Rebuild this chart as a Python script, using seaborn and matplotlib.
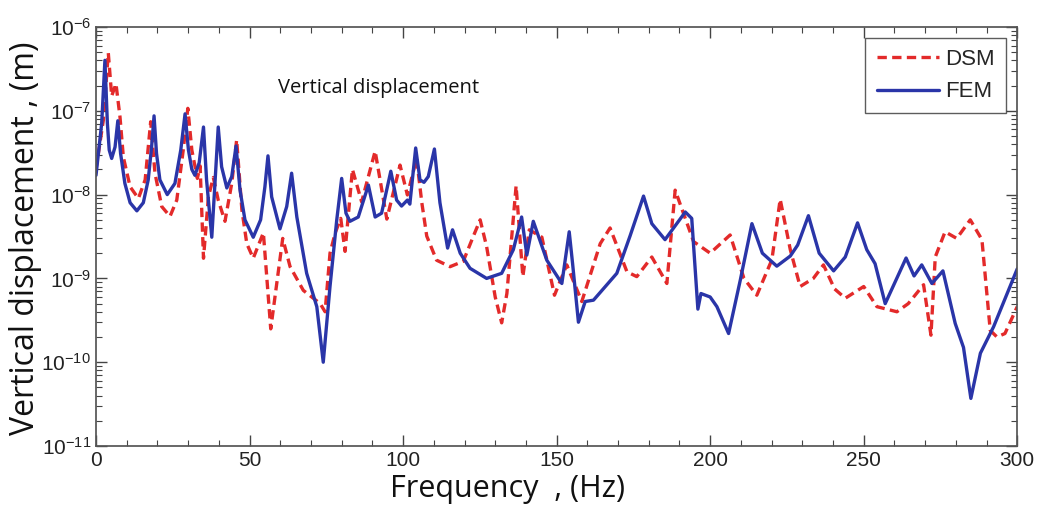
#!/usr/bin/env python3
import numpy as np
import pandas as pd
import matplotlib
matplotlib.use("Agg")
import matplotlib.pyplot as plt
from matplotlib.ticker import MultipleLocator, LogLocator, NullFormatter
import seaborn as sns

# FEM curve (solid blue)
FEM_FREQ = [0, 1.85, 2.9, 3.7, 4.3, 5.1, 6.2, 7.1, 8.0, 9.4, 11.1, 13.3, 15.4, 17.0, 18.1,
            18.9, 19.7, 20.8, 23.2, 25.7, 27.6, 29.0, 30.1, 31.2, 32.2, 33.6, 35.0, 36.0,
            37.7, 38.8, 39.8, 40.9, 42.6, 44.2, 45.6, 46.9, 48.5, 51.2, 53.6, 55.0, 56.0,
            57.2, 59.9, 62.1, 63.7, 65.4, 68.6, 71.9, 74.0, 76.2, 78.4, 80.0, 81.4, 82.7,
            85.4, 88.7, 90.9, 93.0, 96.0, 97.9, 99.5, 101.4, 102.2, 104.1, 105.5, 106.8,
            108.2, 110.2, 112, 114.5, 116.1, 118.6, 121.8, 127.2, 132.1, 135.9, 138.6,
            140.3, 142.4, 146.8, 151.7, 154.1, 155.2, 157.1, 159.3, 162.0, 169.6, 173.9,
            178.3, 181, 185.3, 191.9, 194.0, 196.0, 197.0, 200.0, 202.2, 206.0, 209.8,
            213.6, 217, 221.7, 226.1, 228.5, 232.0, 235.5, 240.2, 244, 248.0, 251, 253.7,
            257.0, 263.8, 266.4, 268.9, 272.2, 275.8, 279.8, 282.5, 284.9, 288.0, 292.3,
            300]
FEM_DISP = [1.7e-8, 7.1e-8, 4.0e-7, 7.1e-8, 3.4e-8, 2.7e-8, 3.7e-8, 7.6e-8, 3.1e-8,
            1.36e-8, 8e-9, 6.4e-9, 8e-9, 1.5e-8, 3.7e-8, 8.7e-8, 3.1e-8, 1.5e-8, 1.0e-8,
            1.36e-8, 3.4e-8, 9.2e-8, 3.4e-8, 2.0e-8, 1.7e-8, 2.4e-8, 6.4e-8, 1.5e-8,
            3.1e-9, 1.5e-8, 6.4e-8, 2.15e-8, 1.2e-8, 1.64e-8, 3.8e-8, 1.13e-8, 5e-9,
            3.1e-9, 5e-9, 1.24e-8, 2.9e-8, 9.4e-9, 3.9e-9, 7.2e-9, 1.8e-8, 5.4e-9,
            1.15e-9, 4.6e-10, 1.0e-10, 8e-10, 5e-9, 1.56e-8, 6e-9, 4.8e-9, 5.4e-9, 1.3e-8,
            5.4e-9, 6e-9, 1.9e-8, 8.6e-9, 7.3e-9, 8.6e-9, 7.7e-9, 3.6e-8, 1.5e-8, 1.4e-8,
            1.64e-8, 3.5e-8, 8e-9, 2.3e-9, 3.8e-9, 2e-9, 1.32e-9, 1.0e-9, 1.15e-9, 2.2e-9,
            5.4e-9, 1.9e-9, 4.8e-9, 1.65e-9, 8.7e-10, 3.6e-9, 1.5e-9, 3.0e-10, 5.3e-10,
            5.5e-10, 1.15e-9, 3.2e-9, 9.6e-9, 4.5e-9, 2.9e-9, 6.2e-9, 5.2e-9, 4.3e-10,
            6.6e-10, 6.0e-10, 4.6e-10, 2.2e-10, 9.5e-10, 4.5e-9, 2e-9, 1.4e-9, 1.85e-9,
            2.5e-9, 5.6e-9, 2.0e-9, 1.23e-9, 1.8e-9, 4.6e-9, 2.2e-9, 1.5e-9, 5.0e-10,
            1.75e-9, 1.07e-9, 1.45e-9, 8.7e-10, 1.23e-9, 2.9e-10, 1.5e-10, 3.7e-11,
            1.28e-10, 2.65e-10, 1.3e-9]

# DSM curve (dashed red)
DSM_FREQ = [0, 2.4, 4.0, 5.1, 6.5, 7.8, 8.9, 11.1, 13.8, 16, 17.8, 19.2, 21.4, 24.1, 26.3,
            28.4, 29.9, 31.2, 33.0, 33.9, 35.0, 36.6, 38.2, 39.8, 42.0, 44.2, 45.8, 47.5,
            49.1, 51.2, 54.5, 56.9, 60.8, 63.2, 67.5, 73.0, 74.6, 76.2, 77.9, 79.7, 81.1,
            83.5, 86.5, 90.9, 94.7, 99.0, 101.4, 104.4, 106.1, 107.7, 110.9, 115.3, 119.6,
            122.9, 125.1, 127.2, 130, 132.1, 133.8, 136.8, 139.0, 141.1, 145.2, 149.3,
            153.3, 158.2, 164.2, 167.4, 172.9, 176.1, 181, 185.9, 188.6, 194.6, 200, 206.5,
            211, 215.2, 220.1, 222.8, 226.1, 229.3, 233.6, 236.9, 240.5, 244, 250, 254.3,
            260.8, 264.5, 269.5, 271.9, 273.3, 276.5, 280.3, 284.7, 288.5, 291.2, 293.4,
            296, 300]
DSM_DISP = [2.0e-8, 7.8e-8, 4.9e-7, 1.5e-7, 2.1e-7, 8.5e-8, 2.8e-8, 1.24e-8, 9e-9,
            1.5e-8, 7.4e-8, 1.8e-8, 7.2e-9, 5.5e-9, 8.6e-9, 3.4e-8, 1.07e-7, 3.4e-8,
            1.56e-8, 2.2e-8, 1.74e-9, 9.4e-9, 1.6e-8, 8.6e-9, 4.8e-9, 1.36e-8, 4.5e-8,
            6.6e-9, 2.6e-9, 1.74e-9, 3.5e-9, 2.5e-10, 3.0e-9, 1.38e-9, 7.2e-10, 5.0e-10,
            4.0e-10, 2.0e-9, 3.5e-9, 5.2e-9, 2.1e-9, 2.0e-8, 8.2e-9, 3.3e-8, 5.1e-9,
            2.25e-8, 9.9e-9, 2.7e-8, 8e-9, 3.2e-9, 1.65e-9, 1.38e-9, 1.6e-9, 3.2e-9,
            5.0e-9, 2.4e-9, 6e-10, 2.95e-10, 6.6e-10, 1.27e-8, 1.05e-9, 3.8e-9, 3.1e-9,
            6.3e-10, 1.45e-9, 5.3e-10, 2.6e-9, 4.0e-9, 1.2e-9, 1.05e-9, 1.8e-9, 8.7e-10,
            1.13e-8, 2.75e-9, 2.0e-9, 3.3e-9, 1.0e-9, 6.3e-10, 1.67e-9, 8.8e-9, 2.2e-9,
            8e-10, 1.0e-9, 1.45e-9, 7.5e-10, 5.8e-10, 8e-10, 4.6e-10, 4.0e-10, 5e-10,
            8.4e-10, 2.1e-10, 1.8e-9, 3.6e-9, 3.0e-9, 5.0e-9, 2.9e-9, 2.4e-10, 2.0e-10,
            2.2e-10, 4.6e-10]

X_TICKS = [0, 50, 100, 150, 200, 250, 300]
PALETTE = {"DSM": "#e32a2a", "FEM": "#2a35a8"}


def main():
    df = pd.concat([
        pd.DataFrame({"freq": DSM_FREQ, "disp": DSM_DISP, "method": "DSM"}),
        pd.DataFrame({"freq": FEM_FREQ, "disp": FEM_DISP, "method": "FEM"}),
    ], ignore_index=True)

    sns.set_theme(style="ticks")
    plt.rcParams["font.family"] = ["Liberation Sans", "DejaVu Sans"]
    plt.rcParams["mathtext.fontset"] = "custom"
    plt.rcParams["mathtext.rm"] = "Liberation Sans"
    plt.rcParams["mathtext.it"] = "Liberation Sans:italic"

    fig = plt.figure(figsize=(10.38, 5.08), dpi=100)
    ax = fig.add_axes([0.0925, 0.122, 0.8875, 0.8249])

    sns.lineplot(data=df, x="freq", y="disp", hue="method", style="method",
                 palette=PALETTE, dashes={"DSM": (2.8, 1.6), "FEM": ""},
                 estimator=None, sort=False, lw=2.4, ax=ax)

    ax.set_yscale("log")
    ax.set_xlim(0, 300)
    ax.set_ylim(1e-11, 1e-6)
    ax.set_xticks(X_TICKS)
    ax.xaxis.set_minor_locator(MultipleLocator(10))
    ax.yaxis.set_major_locator(LogLocator(base=10, numticks=10))
    ax.yaxis.set_minor_locator(LogLocator(base=10, subs=np.arange(2, 10), numticks=20))
    ax.yaxis.set_minor_formatter(NullFormatter())
    ax.tick_params(which="both", direction="in", top=True, right=True,
                   colors="#444444", labelcolor="#222222", labelsize=15)
    ax.tick_params(which="major", length=8, width=1)
    ax.tick_params(which="minor", length=4, width=0.8)
    for sp in ax.spines.values():
        sp.set_color("#555555")

    # axis titles placed as in the reference (slightly off-centre)
    ax.set_xlabel("")
    ax.set_ylabel("")
    fig.text(508 / 1038, 1 - 489 / 508, "Frequency  , (Hz)", fontsize=22,
             family="Open Sans", color="#111111", ha="center", va="center")
    fig.text(26 / 1038, 1 - 238 / 508, "Vertical displacement , (m)", fontsize=23,
             family="Open Sans", color="#111111", ha="center", va="center", rotation=90)
    ax.text(0.198, 0.854, "Vertical displacement", transform=ax.transAxes,
            fontsize=14.5, family="Open Sans", color="#111111", va="center")

    leg = ax.legend(loc="upper right", fontsize=16, frameon=True, fancybox=False,
                    edgecolor="#333333", borderaxespad=0.5, handlelength=2.8,
                    handletextpad=0.3, borderpad=0.5, title=None)
    leg.get_frame().set_linewidth(1.0)

    fig.savefig("out.png", dpi=100)


if __name__ == "__main__":
    main()
